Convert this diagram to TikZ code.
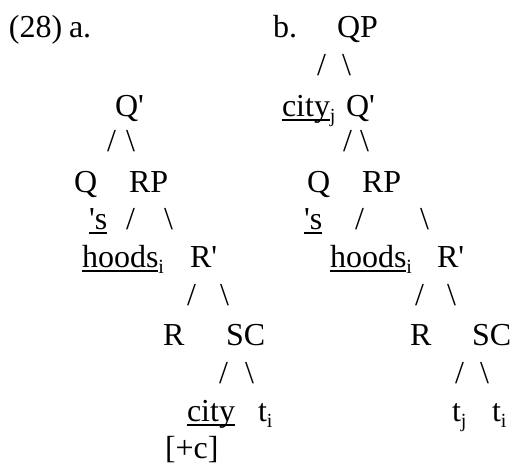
\documentclass[tikz,border=0pt]{standalone}
\usepackage{fontspec}
\setmainfont{Liberation Serif}
\newsavebox\myulbox
\newcommand\myul[1]{\sbox\myulbox{#1}\rlap{\rule[-4.6pt]{\wd\myulbox}{1.2pt}}\usebox\myulbox}
\newcommand\mysub[1]{\raisebox{-6pt}{\fontsize{20}{20}\selectfont #1}}
\newcommand\pr{\textquotesingle}
\tikzset{
  lbl/.style={inner sep=0pt, outer sep=0pt, anchor=base west, font=\fontsize{32}{38}\selectfont},
}
\begin{document}
\begin{tikzpicture}[x=1pt,y=-1pt]
\useasboundingbox (0,0) rectangle (512,466);
% headers
\node[lbl] (num) at (9,37) {(28)};
\node[lbl] (la) at (69,37) {a.};
\node[lbl] (lb) at (273,37) {b.};
% ---- tree a ----
\node[lbl] (aQb) at (115,116) {Q\pr};
\node[lbl] (as1) at (107,151) {/};
\node[lbl] (ab1) at (126,151) {\textbackslash};
\node[lbl] (aQ) at (74,192) {Q};
\node[lbl] (aRP) at (129,192) {RP};
\node[lbl] (aS) at (89,229) {\myul{\pr s}};
\node[lbl] (as2) at (126,229) {/};
\node[lbl] (ab2) at (164,229) {\textbackslash};
\node[lbl] (ahoods) at (82,267) {\myul{hoods}\mysub{i}};
\node[lbl] (aRb) at (190,267) {R\pr};
\node[lbl] (as3) at (187,305) {/};
\node[lbl] (ab3) at (220,305) {\textbackslash};
\node[lbl] (aR) at (163,345) {R};
\node[lbl] (aSC) at (226,345) {SC};
\node[lbl] (as4) at (219,383) {/};
\node[lbl] (ab4) at (245,383) {\textbackslash};
\node[lbl] (acity) at (187,421) {\myul{city}};
\node[lbl] (ati) at (258,421) {t\mysub{i}};
\node[lbl] (ac) at (165,458) {[+c]};
% ---- tree b ----
\node[lbl] (bQP) at (337,37) {QP};
\node[lbl] (bs0) at (317,75) {/};
\node[lbl] (bb0) at (342,75) {\textbackslash};
\node[lbl] (bcity) at (282,116) {\myul{city}\mysub{j}};
\node[lbl] (bQb) at (346,116) {Q\pr};
\node[lbl] (bs1) at (343,151) {/};
\node[lbl] (bb1) at (360,151) {\textbackslash};
\node[lbl] (bQ) at (307,192) {Q};
\node[lbl] (bRP) at (362,192) {RP};
\node[lbl] (bS) at (304,229) {\myul{\pr s}};
\node[lbl] (bs2) at (355,229) {/};
\node[lbl] (bb2) at (420,229) {\textbackslash};
\node[lbl] (bhoods) at (330,267) {\myul{hoods}\mysub{i}};
\node[lbl] (bRb) at (437,267) {R\pr};
\node[lbl] (bs3) at (415,305) {/};
\node[lbl] (bb3) at (447,305) {\textbackslash};
\node[lbl] (bR) at (410,345) {R};
\node[lbl] (bSC) at (472,345) {SC};
\node[lbl] (bs4) at (455,383) {/};
\node[lbl] (bb4) at (480,383) {\textbackslash};
\node[lbl] (btj) at (452,421) {t\mysub{j}};
\node[lbl] (bti) at (492,421) {t\mysub{i}};
\end{tikzpicture}
\end{document}
